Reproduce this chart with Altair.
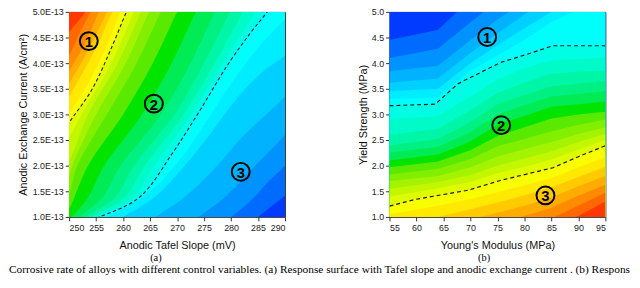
import altair as alt
import pandas as pd

FONT = "Liberation Sans"
SERIF = "Liberation Serif"

# ---------------- panel (a): anodic Tafel slope vs anodic exchange current ----------------
A_X_TICKS = [250, 255, 260, 265, 270, 275, 280, 285, 290]
A_Y_TICKS = [1.0, 1.5, 2.0, 2.5, 3.0, 3.5, 4.0, 4.5, 5.0]  # in units of 1E-13 A/cm2

# contour levels of the normalised response (0 = lowest/blue, 1 = highest/red)
A_LEVELS = [0.96, 0.92, 0.88, 0.84, 0.80, 0.76, 0.72, 0.68, 0.64, 0.60, 0.56, 0.52,
            0.48, 0.44, 0.40, 0.36, 0.32, 0.28, 0.24, 0.20, 0.16, 0.12, 0.08, 0.04]
A_CX = [
    [246, 250, 253, 254.2],
    [246, 250, 252, 254, 255.3],
    [246, 250, 253, 255.5, 256.8],
    [246, 250, 254, 257, 258.3],
    [246, 250, 255, 258, 259.5],
    [247, 250, 253.5, 256.8, 259.5, 260.9],
    [246, 250, 254.25, 257.6, 260.6, 261.8],
    [246, 250, 252.3, 257.8, 262, 263.3],
    [246, 250, 253.5, 259, 263.3, 264.6],
    [247, 250, 250.6, 255, 260.5, 264.8, 266.2],
    [247, 250, 251.5, 257, 262.5, 267, 268.5],
    [247, 250, 253.5, 260, 265.5, 270, 271.5],
    [248, 250.5, 253.5, 256.5, 263.5, 269, 273.5, 275],
    [249.5, 252, 256.2, 259.5, 267, 272.5, 277, 278.5],
    [251, 253.2, 258.5, 262, 269.5, 275, 279.8, 281.3],
    [252, 254.2, 260.3, 264, 271.2, 277, 282.2, 283.7],
    [253, 255, 261.8, 265.8, 272.6, 278.4, 284.5, 286],
    [253, 255.6, 263, 269, 273.9, 279.4, 283.6, 286.7, 288.5],
    [254, 257, 264.5, 270, 275, 280, 285, 290, 293],
    [257, 260, 266, 271, 276, 281, 285.5, 290, 294],
    [263, 266, 271.5, 277, 282, 286.5, 290, 294],
    [271, 274, 279, 284, 290, 294],
    [277, 280, 284, 287, 290, 294],
    [282, 285, 288, 290, 294],
]
A_CY = [
    [3.9, 4.6, 5.0, 5.3],
    [3.5, 4.15, 4.6, 5.0, 5.3],
    [3.2, 3.85, 4.4, 5.0, 5.3],
    [2.9, 3.6, 4.35, 5.0, 5.3],
    [2.65, 3.35, 4.3, 5.0, 5.3],
    [2.5, 3.0, 3.6, 4.3, 5.0, 5.3],
    [2.2, 2.84, 3.49, 4.24, 5.0, 5.3],
    [1.9, 2.55, 3.0, 4.0, 5.0, 5.3],
    [1.5, 2.1, 3.0, 4.0, 5.0, 5.3],
    [1.3, 1.78, 2.0, 3.0, 4.0, 5.0, 5.3],
    [0.9, 1.45, 2.0, 3.0, 4.0, 5.0, 5.3],
    [0.6, 1.15, 2.0, 3.0, 4.0, 5.0, 5.3],
    [0.7, 1.0, 1.38, 2.0, 3.0, 4.0, 5.0, 5.3],
    [0.7, 1.0, 1.38, 2.0, 3.0, 4.0, 5.0, 5.3],
    [0.75, 1.0, 1.38, 2.0, 3.0, 4.0, 5.0, 5.3],
    [0.8, 1.0, 1.38, 2.0, 3.0, 4.0, 5.0, 5.3],
    [0.85, 1.0, 1.38, 2.0, 3.0, 4.0, 5.0, 5.3],
    [0.9, 1.0, 1.38, 2.22, 3.02, 3.97, 4.59, 5.0, 5.3],
    [0.85, 1.0, 1.45, 2.05, 2.8, 3.6, 4.3, 4.85, 5.1],
    [0.8, 1.0, 1.4, 1.95, 2.6, 3.3, 3.8, 4.15, 4.5],
    [0.8, 1.0, 1.4, 1.95, 2.55, 3.0, 3.35, 3.8],
    [0.8, 1.0, 1.4, 1.95, 2.6, 3.1],
    [0.8, 1.0, 1.35, 1.7, 2.0, 2.5],
    [0.8, 1.0, 1.25, 1.42, 1.9],
]
A_DASHED_LEVELS = [0.72, 0.28]
A_MARK_X = [253.65, 265.7, 281.8]
A_MARK_Y = [4.43, 3.21, 1.88]

# ---------------- panel (b): Young's modulus vs yield strength ----------------
B_X_TICKS = [55, 60, 65, 70, 75, 80, 85, 90, 95]
B_Y_TICKS = [1.0, 1.5, 2.0, 2.5, 3.0, 3.5, 4.0, 4.5, 5.0]
B_GRID_X = [55, 64, 70, 75, 80, 85, 90, 95]
B_LEVELS = [0.04, 0.08, 0.12, 0.16, 0.20, 0.24, 0.28, 0.32, 0.36, 0.40, 0.44, 0.48,
            0.52, 0.56, 0.60, 0.64, 0.68, 0.72, 0.76, 0.80, 0.84, 0.88, 0.92, 0.96]
B_CY = [
    [4.45, 4.65, 5.25, 5.8, 6.3, 6.8, 7.3, 7.8],
    [4.1, 4.28, 4.8, 5.2, 5.6, 6.0, 6.4, 6.8],
    [3.84, 3.95, 4.45, 4.85, 5.2, 5.55, 5.9, 6.25],
    [3.62, 3.7, 4.2, 4.58, 4.95, 5.3, 5.65, 6.0],
    [3.45, 3.5, 4.0, 4.35, 4.68, 5.0, 5.3, 5.6],
    [3.3, 3.33, 3.85, 4.15, 4.45, 4.8, 5.05, 5.2],
    None,  # dashed line 1 (own points below)
    [2.9, 2.97, 3.35, 3.68, 3.9, 4.05, 4.08, 4.1],
    [2.6, 2.72, 3.08, 3.42, 3.62, 3.8, 3.83, 3.85],
    [2.4, 2.52, 2.85, 3.2, 3.38, 3.55, 3.6, 3.65],
    [2.25, 2.37, 2.65, 3.0, 3.18, 3.35, 3.4, 3.45],
    [2.1, 2.22, 2.47, 2.8, 2.97, 3.15, 3.2, 3.25],
    [1.97, 2.08, 2.3, 2.58, 2.75, 2.92, 3.0, 3.05],
    [1.83, 1.94, 2.13, 2.38, 2.52, 2.67, 2.8, 2.9],
    [1.7, 1.8, 1.97, 2.18, 2.32, 2.46, 2.62, 2.75],
    [1.55, 1.68, 1.82, 2.0, 2.14, 2.28, 2.46, 2.62],
    [1.4, 1.56, 1.68, 1.85, 1.98, 2.12, 2.31, 2.5],
    None,  # dashed line 2 (own points below)
    [1.05, 1.22, 1.35, 1.48, 1.62, 1.76, 1.97, 2.17],
    [0.85, 1.0, 1.15, 1.28, 1.42, 1.58, 1.78, 1.98],
    [0.7, 0.82, 0.95, 1.08, 1.22, 1.38, 1.6, 1.8],
    [0.5, 0.6, 0.75, 0.88, 1.02, 1.18, 1.42, 1.63],
    [0.3, 0.4, 0.55, 0.68, 0.82, 0.97, 1.22, 1.47],
    [0.1, 0.2, 0.35, 0.48, 0.62, 0.77, 1.02, 1.3],
]
B_D1_X = [55, 63.5, 67.7, 71.9, 75.5, 80.4, 85.3, 95]
B_D1_Y = [3.17, 3.2, 3.6, 3.82, 4.01, 4.17, 4.34, 4.34]
B_D2_X = [55, 59.7, 69.5, 75.5, 85.3, 90.1, 95]
B_D2_Y = [1.21, 1.34, 1.52, 1.71, 1.96, 2.18, 2.39]
B_MARK_X = [73.1, 75.7, 83.9]
B_MARK_Y = [4.51, 2.79, 1.42]

MARK_TEXT = ["1", "2", "3"]
CAPTION = ("Corrosive rate of alloys with different control variables. (a) Response surface with "
           "Tafel slope and anodic exchange current . (b) Respons")

COLOR_SCALE = alt.Scale(domain=[0, 0.25, 0.5, 0.75, 1.0],
                        range=["#0000ff", "#00ffff", "#00e400", "#ffff00", "#ff0000"])

# ---------------- tables ----------------
rows = [dict(cid=0, band=0.98, x=240, y=0.5), dict(cid=0, band=0.98, x=240, y=5.5)]
for i, (lev, xs, ys) in enumerate(zip(A_LEVELS, A_CX, A_CY), start=1):
    for x, y in zip(xs, ys):
        rows.append(dict(cid=i, band=round(lev - 0.02, 3), x=x, y=y))
df_a = pd.DataFrame(rows)
df_a_dash = df_a[df_a["band"].isin([round(l - 0.02, 3) for l in A_DASHED_LEVELS])]

rows = [dict(cid=0, band=0.02, x=50, y=6), dict(cid=0, band=0.02, x=100, y=6)]
for i, (lev, ys) in enumerate(zip(B_LEVELS, B_CY), start=1):
    if ys is None:
        xs, ys = (B_D1_X, B_D1_Y) if lev < 0.5 else (B_D2_X, B_D2_Y)
    else:
        xs = B_GRID_X
    for x, y in zip(xs, ys):
        rows.append(dict(cid=i, band=round(lev + 0.02, 3), x=x, y=y))
df_b = pd.DataFrame(rows)
df_b_dash = pd.DataFrame(
    [dict(cid=1, x=x, y=y) for x, y in zip(B_D1_X, B_D1_Y)]
    + [dict(cid=2, x=x, y=y) for x, y in zip(B_D2_X, B_D2_Y)]
)

marks_a = pd.DataFrame({"x": A_MARK_X, "y": A_MARK_Y, "t": MARK_TEXT})
marks_b = pd.DataFrame({"x": B_MARK_X, "y": B_MARK_Y, "t": MARK_TEXT})

W, H = 219, 208
AX_COMMON = dict(tickSize=4, domain=False, grid=False, labelOverlap=False, tickCount=9)

# ---------------- panel (a) ----------------
xa = alt.Scale(domain=[250, 290], nice=False, zero=False)
ya = alt.Scale(domain=[1, 5], nice=False, zero=False)
ax_xa = alt.Axis(values=A_X_TICKS, format="d", title="Anodic Tafel Slope (mV)",
                 labelPadding=3, titlePadding=7, **AX_COMMON)
ax_ya = alt.Axis(values=A_Y_TICKS, labelExpr="format(datum.value, '.1f') + 'E-13'",
                 title="Anodic Exchange Current (A/cm²)",
                 labelPadding=2, titlePadding=3.5, **AX_COMMON)
XA = alt.X("x:Q", scale=xa, axis=ax_xa, stack=None)
YA = alt.Y("y:Q", scale=ya, axis=ax_ya)

area_a = alt.Chart(df_a).mark_area(clip=True, interpolate="catmull-rom", orient="horizontal").encode(
    y=YA, x=XA, x2=alt.datum(300),
    fill=alt.Fill("band:Q", scale=COLOR_SCALE, legend=None),
    detail="cid:N",
)
dash_a = alt.Chart(df_a_dash).mark_line(
    clip=True, interpolate="catmull-rom", strokeDash=[3.5, 2.5], strokeWidth=1.1, color="#1c1c3a"
).encode(x=XA, y=YA, detail="cid:N", order="y:Q")
circ_a = alt.Chart(marks_a).mark_point(shape="circle", size=330, filled=False, stroke="black",
                                       strokeWidth=2, opacity=1).encode(x=XA, y=YA)
num_a = alt.Chart(marks_a).mark_text(font=FONT, fontSize=15, fontWeight="bold", color="black",
                                     baseline="middle", dy=1).encode(x=XA, y=YA, text="t:N")
lab_a = alt.Chart(pd.DataFrame({"t": ["(a)"]})).mark_text(
    font=SERIF, fontSize=10.5, color="black").encode(
    text="t:N", x=alt.value(88), y=alt.value(250))
caption = alt.Chart(pd.DataFrame({"t": [CAPTION]})).mark_text(
    font=SERIF, fontSize=11.5, color="black", align="left").encode(
    text="t:N", x=alt.value(-61), y=alt.value(261.5))
panel_a = alt.layer(area_a, dash_a, circ_a, num_a, lab_a, caption).properties(width=W, height=H)

# ---------------- panel (b) ----------------
xb = alt.Scale(domain=[55, 95], nice=False, zero=False)
yb = alt.Scale(domain=[1, 5], nice=False, zero=False)
ax_xb = alt.Axis(values=B_X_TICKS, format="d", title="Young's Modulus (MPa)",
                 labelPadding=3, titlePadding=7, **AX_COMMON)
ax_yb = alt.Axis(values=B_Y_TICKS, format=".1f", title="Yield Strength (MPa)",
                 labelPadding=2, titlePadding=3, **AX_COMMON)
XB = alt.X("x:Q", scale=xb, axis=ax_xb)
YB = alt.Y("y:Q", scale=yb, axis=ax_yb, stack=None)

area_b = alt.Chart(df_b).mark_area(clip=True, interpolate="linear", orient="vertical").encode(
    x=XB, y=YB, y2=alt.datum(0),
    fill=alt.Fill("band:Q", scale=COLOR_SCALE, legend=None),
    detail="cid:N",
)
dash_b = alt.Chart(df_b_dash).mark_line(
    clip=True, strokeDash=[4, 3], strokeWidth=1.2, color="#1a1a1a"
).encode(x=XB, y=YB, detail="cid:N", order="x:Q")
circ_b = alt.Chart(marks_b).mark_point(shape="circle", size=330, filled=False, stroke="black",
                                       strokeWidth=2, opacity=1).encode(x=XB, y=YB)
num_b = alt.Chart(marks_b).mark_text(font=FONT, fontSize=15, fontWeight="bold", color="black",
                                     baseline="middle", dy=1).encode(x=XB, y=YB, text="t:N")
lab_b = alt.Chart(pd.DataFrame({"t": ["(b)"]})).mark_text(
    font=SERIF, fontSize=10.5, color="black").encode(
    text="t:N", x=alt.value(96), y=alt.value(250))
panel_b = alt.layer(area_b, dash_b, circ_b, num_b, lab_b).properties(width=W, height=H)

chart = alt.hconcat(panel_a, panel_b, spacing=106, bounds="flush").properties(
    padding={"left": 0, "top": -3, "right": 0, "bottom": 0},
).configure_view(
    stroke="#3a3a3a", strokeWidth=1
).configure_axis(
    labelFont=FONT, labelFontSize=9, labelColor="#222222",
    titleFont=FONT, titleFontSize=11, titleFontWeight="normal", titleColor="#111111",
    tickColor="#333333", tickWidth=1
)

chart.save("out.html", embed_options={"renderer": "svg", "actions": False})
